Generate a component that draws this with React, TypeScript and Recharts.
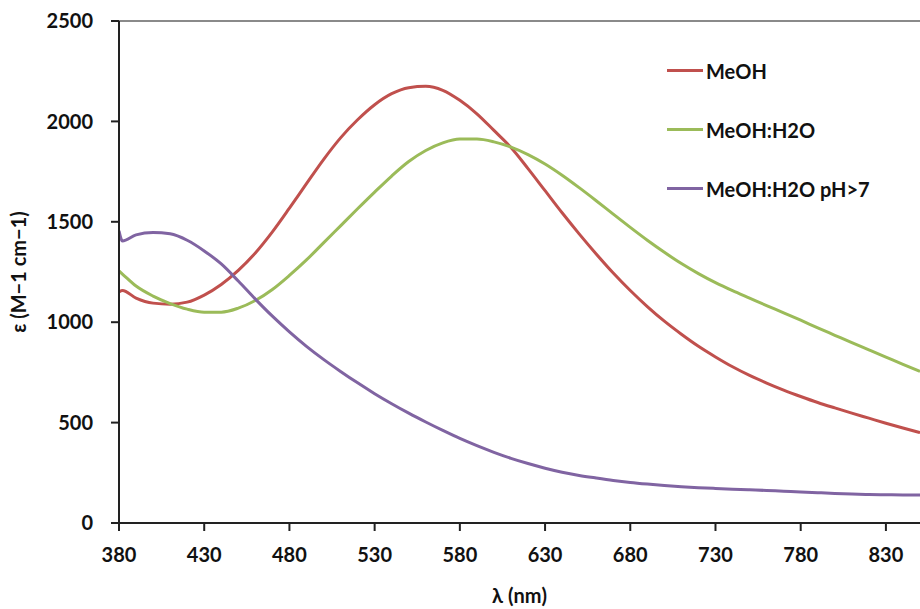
import React from "react";
import {
  LineChart,
  Line,
  XAxis,
  YAxis,
  Legend,
  ReferenceLine,
  Label,
} from "recharts";

// wavelengths (nm)
const wavelengths = [
  380, 382, 390, 400, 410, 420, 430, 440, 450, 460, 470, 480, 490, 500, 510, 520,
  530, 540, 550, 560, 570, 580, 590, 600, 610, 620, 630, 640, 650, 660, 670, 680,
  690, 700, 710, 720, 730, 740, 750, 760, 770, 780, 790, 800, 810, 820, 830, 840,
  850,
];

const meoh = [
  1150, 1158, 1120, 1095, 1090, 1100, 1135, 1188, 1258, 1345, 1450, 1568, 1690, 1810,
  1918, 2008, 2083, 2138, 2168, 2175, 2155, 2105, 2038, 1955, 1870, 1765, 1655, 1545,
  1440, 1340, 1245, 1158, 1078, 1005, 940, 880, 827, 778, 735, 697, 662, 630, 600, 573,
  547, 522, 497, 473, 450,
];

const meohH2o = [
  1255, 1240, 1180, 1130, 1093, 1065, 1050, 1050, 1070, 1108, 1163, 1233, 1310, 1395,
  1480, 1565, 1648, 1728, 1800, 1855, 1893, 1912, 1912, 1898, 1872, 1835, 1788, 1732,
  1670, 1605, 1538, 1472, 1408, 1348, 1292, 1242, 1197, 1157, 1120, 1083, 1047, 1010,
  972, 935, 898, 862, 826, 790, 755,
];

const meohH2oBasic = [
  1455, 1405, 1435, 1447, 1440, 1408, 1355, 1290, 1205, 1115, 1030, 952, 880, 815, 755,
  698, 644, 594, 547, 503, 461, 421, 385, 352, 322, 296, 273, 253, 237, 224, 212, 202,
  194, 187, 181, 176, 172, 168, 165, 162, 158, 155, 151, 147, 144, 142, 141, 140, 140,
];

const xTicks = [380, 430, 480, 530, 580, 630, 680, 730, 780, 830];
const yTicks = [0, 500, 1000, 1500, 2000, 2500];

const series = [
  { key: "meoh", name: "MeOH", color: "#C0504D" },
  { key: "meohH2o", name: "MeOH:H2O", color: "#9BBB59" },
  { key: "basic", name: "MeOH:H2O pH>7", color: "#8064A2" },
];

const data = wavelengths.map((nm, i) => ({
  nm,
  meoh: meoh[i],
  meohH2o: meohH2o[i],
  basic: meohH2oBasic[i],
}));

const FONT = "Lato, 'Open Sans', sans-serif";
const tickStyle = { fontFamily: FONT, fontSize: 20, fontWeight: 700, fill: "#111" };

const LegendBox = () => (
  <div style={{ fontFamily: FONT, fontSize: 20, fontWeight: 700, color: "#111" }}>
    {series.map((s) => (
      <div key={s.key} style={{ display: "flex", alignItems: "center", height: 59 }}>
        <div style={{ width: 36, height: 3, background: s.color, marginRight: 3 }} />
        <span>{s.name}</span>
      </div>
    ))}
  </div>
);

export default function App() {
  return (
    <div style={{ position: "absolute", left: 0, top: 0, background: "#fff" }}>
      <LineChart
        width={920}
        height={609}
        data={data}
        margin={{ top: 21, right: 0, bottom: 0, left: 0 }}
      >
        <ReferenceLine y={2500} stroke="#8a8a8a" strokeWidth={2} />
        <XAxis
          dataKey="nm"
          type="number"
          domain={[380, 850]}
          ticks={xTicks}
          allowDataOverflow
          height={86}
          tick={tickStyle}
          tickSize={8}
          tickMargin={17}
          axisLine={{ stroke: "#222", strokeWidth: 2 }}
          tickLine={{ stroke: "#222", strokeWidth: 2 }}
        >
          <Label
            content={({ viewBox }: any) => (
              <text
                x={viewBox.x + viewBox.width / 2}
                y={603}
                textAnchor="middle"
                style={tickStyle}
              >
                λ (nm)
              </text>
            )}
          />
        </XAxis>
        <YAxis
          type="number"
          domain={[0, 2500]}
          ticks={yTicks}
          width={119}
          tick={tickStyle}
          tickSize={8}
          tickMargin={18}
          axisLine={{ stroke: "#222", strokeWidth: 2 }}
          tickLine={{ stroke: "#222", strokeWidth: 2 }}
        >
          <Label
            content={({ viewBox }: any) => {
              const cx = 21;
              const cy = viewBox.y + viewBox.height / 2;
              return (
                <text
                  x={cx}
                  y={cy}
                  textAnchor="middle"
                  dominantBaseline="middle"
                  transform={`rotate(-90, ${cx}, ${cy})`}
                  style={tickStyle}
                >
                  ε (M−1 cm−1)
                </text>
              );
            }}
          />
        </YAxis>
        <Legend
          layout="vertical"
          verticalAlign="middle"
          align="center"
          content={() => <LegendBox />}
          wrapperStyle={{ left: 667, top: 41, width: 250 }}
        />
        {series.map((s) => (
          <Line
            key={s.key}
            type="monotone"
            dataKey={s.key}
            name={s.name}
            stroke={s.color}
            strokeWidth={3}
            dot={false}
            isAnimationActive={false}
          />
        ))}
      </LineChart>
    </div>
  );
}
